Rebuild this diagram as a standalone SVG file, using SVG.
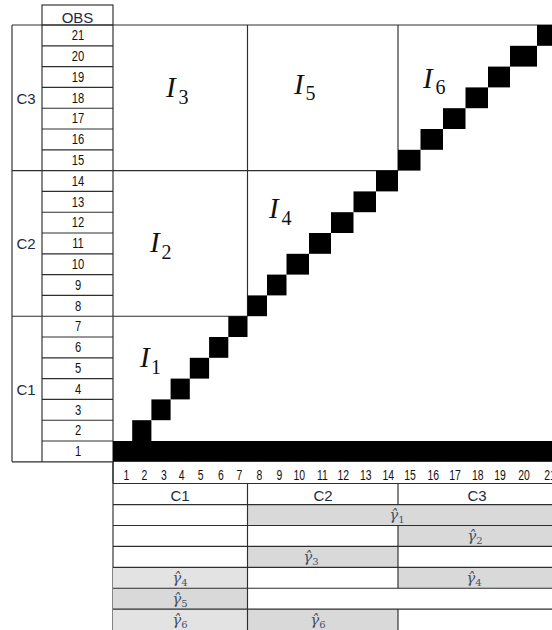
<svg xmlns="http://www.w3.org/2000/svg" width="552" height="630" viewBox="0 0 552 630">
  <style>
    .ln { stroke: #2e2e2e; stroke-width: 1.15; fill: none; }
    .blk { fill: #000; }
    .obs { font-family: "Liberation Sans", Arial, sans-serif; font-size: 14px; fill: #111; text-anchor: middle; }
    .num { font-family: "Liberation Sans", Arial, sans-serif; font-size: 14.5px; fill: #111; text-anchor: middle; }
    .hd { font-family: "Liberation Sans", Arial, sans-serif; font-size: 15px; fill: #1c2a48; text-anchor: middle; }
    .iv { font-family: "Liberation Serif", "Times New Roman", serif; font-style: italic; font-size: 29px; fill: #111; }
    .is { font-family: "Liberation Serif", "Times New Roman", serif; font-size: 20px; fill: #111; }
    .g { font-family: "DejaVu Serif", serif; font-style: italic; font-size: 15px; fill: #44546a; text-anchor: middle; }
    .gs { font-style: normal; font-size: 10px; }
    .sh1 { fill: #d9d9d9; }
    .sh2 { fill: #e3e3e3; }
  </style>

  <!-- OBS index column with class labels -->
  <g id="obs-column">
    <rect class="ln" x="42" y="5" width="71" height="20"/>
    <text class="hd" x="77.5" y="23" font-size="16">OBS</text>
    <path class="ln" d="M12 25H552 M12 25V461.8 M42 25V461.8 M113 25V630 M12 461.8H113"/>
    <path class="ln" d="M42 45.8H113 M42 66.6H113 M42 87.4H113 M42 108.2H113 M42 129H113 M42 149.8H113
                        M42 191.4H113 M42 212.2H113 M42 233H113 M42 253.8H113 M42 274.6H113 M42 295.4H113
                        M42 337H113 M42 357.8H113 M42 378.6H113 M42 399.4H113 M42 420.2H113 M42 441H113"/>
    <g class="obs">
      <text transform="translate(78,40.2) scale(0.8,1)">21</text>
      <text transform="translate(78,61) scale(0.8,1)">20</text>
      <text transform="translate(78,81.8) scale(0.8,1)">19</text>
      <text transform="translate(78,102.6) scale(0.8,1)">18</text>
      <text transform="translate(78,123.4) scale(0.8,1)">17</text>
      <text transform="translate(78,144.2) scale(0.8,1)">16</text>
      <text transform="translate(78,165) scale(0.8,1)">15</text>
      <text transform="translate(78,185.8) scale(0.8,1)">14</text>
      <text transform="translate(78,206.6) scale(0.8,1)">13</text>
      <text transform="translate(78,227.4) scale(0.8,1)">12</text>
      <text transform="translate(78,248.2) scale(0.8,1)">11</text>
      <text transform="translate(78,269) scale(0.8,1)">10</text>
      <text transform="translate(78,289.8) scale(0.8,1)">9</text>
      <text transform="translate(78,310.6) scale(0.8,1)">8</text>
      <text transform="translate(78,331.4) scale(0.8,1)">7</text>
      <text transform="translate(78,352.2) scale(0.8,1)">6</text>
      <text transform="translate(78,373) scale(0.8,1)">5</text>
      <text transform="translate(78,393.8) scale(0.8,1)">4</text>
      <text transform="translate(78,414.6) scale(0.8,1)">3</text>
      <text transform="translate(78,435.4) scale(0.8,1)">2</text>
      <text transform="translate(78,456.2) scale(0.8,1)">1</text>
    </g>
  </g>

  <g id="class-C3"><text class="hd" x="26" y="103.5">C3</text></g>
  <g id="class-C2"><text class="hd" x="26" y="249">C2</text></g>
  <g id="class-C1"><text class="hd" x="26" y="394.5">C1</text></g>

  <!-- block borders of the upper grid -->
  <g id="grid">
    <path class="ln" d="M12 170.6H398 M12 316.2H247.5 M247.5 25V316.2 M398 25V170.6"/>
  </g>

  <!-- diagonal staircase and base bar -->
  <g id="staircase" class="blk">
    <rect x="113" y="441" width="439" height="20.8"/>
    <rect x="132.2" y="420.2" width="19.2" height="20.8"/>
    <rect x="151.4" y="399.4" width="19.2" height="20.8"/>
    <rect x="170.6" y="378.6" width="19.2" height="20.8"/>
    <rect x="189.8" y="357.8" width="19.3" height="20.8"/>
    <rect x="209.1" y="337" width="19.2" height="20.8"/>
    <rect x="228.3" y="316.2" width="19.2" height="20.8"/>
    <rect x="247.5" y="295.4" width="19.5" height="20.8"/>
    <rect x="267" y="274.6" width="19.5" height="20.8"/>
    <rect x="286.5" y="253.8" width="22.5" height="20.8"/>
    <rect x="309" y="233" width="22" height="20.8"/>
    <rect x="331" y="212.2" width="22.5" height="20.8"/>
    <rect x="353.5" y="191.4" width="22.5" height="20.8"/>
    <rect x="376" y="170.6" width="22" height="20.8"/>
    <rect x="398" y="149.8" width="22.5" height="20.8"/>
    <rect x="420.5" y="129" width="22.5" height="20.8"/>
    <rect x="443" y="108.2" width="22.5" height="20.8"/>
    <rect x="465.5" y="87.4" width="22.5" height="20.8"/>
    <rect x="488" y="66.6" width="22" height="20.8"/>
    <rect x="510" y="45.8" width="27" height="20.8"/>
    <rect x="537" y="25" width="23" height="20.8"/>
  </g>

  <!-- block labels -->
  <g id="I1"><text class="iv" x="140" y="367">I</text><text class="is" x="151" y="373.5">1</text></g>
  <g id="I2"><text class="iv" x="150" y="252">I</text><text class="is" x="161.5" y="258.5">2</text></g>
  <g id="I3"><text class="iv" x="166" y="97">I</text><text class="is" x="178.5" y="103.5">3</text></g>
  <g id="I4"><text class="iv" x="269" y="218">I</text><text class="is" x="281.5" y="224.5">4</text></g>
  <g id="I5"><text class="iv" x="294" y="93.5">I</text><text class="is" x="305.5" y="100">5</text></g>
  <g id="I6"><text class="iv" x="423" y="88">I</text><text class="is" x="435.5" y="94">6</text></g>

  <!-- column index row -->
  <g id="col-index" class="num">
    <path class="ln" d="M113 461.8V483.5"/>
    <text transform="translate(126.5,480) scale(0.72,1)">1</text>
    <text transform="translate(144.3,480) scale(0.72,1)">2</text>
    <text transform="translate(164,480) scale(0.72,1)">3</text>
    <text transform="translate(181.7,480) scale(0.72,1)">4</text>
    <text transform="translate(200.7,480) scale(0.72,1)">5</text>
    <text transform="translate(221,480) scale(0.72,1)">6</text>
    <text transform="translate(239.3,480) scale(0.72,1)">7</text>
    <text transform="translate(259.3,480) scale(0.72,1)">8</text>
    <text transform="translate(279.3,480) scale(0.72,1)">9</text>
    <text transform="translate(299.3,480) scale(0.72,1)">10</text>
    <text transform="translate(322.3,480) scale(0.72,1)">11</text>
    <text transform="translate(343.3,480) scale(0.72,1)">12</text>
    <text transform="translate(365.7,480) scale(0.72,1)">13</text>
    <text transform="translate(388.3,480) scale(0.72,1)">14</text>
    <text transform="translate(410,480) scale(0.72,1)">15</text>
    <text transform="translate(433.3,480) scale(0.72,1)">16</text>
    <text transform="translate(455,480) scale(0.72,1)">17</text>
    <text transform="translate(477.7,480) scale(0.72,1)">18</text>
    <text transform="translate(500,480) scale(0.72,1)">19</text>
    <text transform="translate(524,480) scale(0.72,1)">20</text>
    <text transform="translate(550,480) scale(0.72,1)">21</text>
  </g>

  <!-- estimate table -->
  <g id="gamma-table">
    <rect class="sh1" x="247.5" y="504.6" width="304.5" height="20.9"/>
    <rect class="sh1" x="398" y="525.5" width="154" height="20.9"/>
    <rect class="sh1" x="247.5" y="546.4" width="150.5" height="20.9"/>
    <rect class="sh2" x="113" y="567.3" width="134.5" height="20.9"/>
    <rect class="sh1" x="398" y="567.3" width="154" height="20.9"/>
    <rect class="sh1" x="113" y="588.2" width="134.5" height="20.9"/>
    <rect class="sh2" x="113" y="609.1" width="134.5" height="20.9"/>
    <rect class="sh1" x="247.5" y="609.1" width="150.5" height="20.9"/>

    <path class="ln" d="M113 483.5H552 M113 504.6H552 M113 525.5H552 M113 546.4H552 M113 567.3H552 M113 588.2H552 M113 609.1H552
                        M247.5 483.5V630 M398 483.5V504.6 M398 525.5V588.2 M398 609.1V630"/>

    <text class="hd" x="180" y="500.5" font-size="16">C1</text>
    <text class="hd" x="323" y="500.5" font-size="16">C2</text>
    <text class="hd" x="477" y="500.5" font-size="16">C3</text>

    <text class="g" x="397" y="519.5">γ̂<tspan class="gs" dy="3">1</tspan></text>
    <text class="g" x="475" y="540.5">γ̂<tspan class="gs" dy="3">2</tspan></text>
    <text class="g" x="311" y="561.5">γ̂<tspan class="gs" dy="3">3</tspan></text>
    <text class="g" x="180" y="582.5">γ̂<tspan class="gs" dy="3">4</tspan></text>
    <text class="g" x="474" y="582.5">γ̂<tspan class="gs" dy="3">4</tspan></text>
    <text class="g" x="180" y="603.5">γ̂<tspan class="gs" dy="3">5</tspan></text>
    <text class="g" x="180" y="624.5">γ̂<tspan class="gs" dy="3">6</tspan></text>
    <text class="g" x="318" y="624.5">γ̂<tspan class="gs" dy="3">6</tspan></text>
  </g>
</svg>
